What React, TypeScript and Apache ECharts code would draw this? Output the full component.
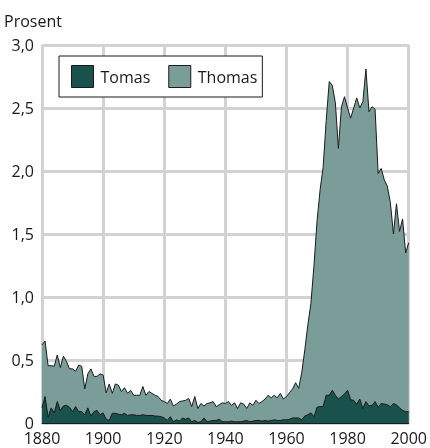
import React, { useEffect, useRef } from "react";
import * as echarts from "echarts";

const startYear = 1880;
const endYear = 2000;
const years: number[] = [];
for (let y = startYear; y <= endYear; y++) years.push(y);

const xTicks = [1880, 1900, 1920, 1940, 1960, 1980, 2000];
const yTicks = [0, 0.5, 1.0, 1.5, 2.0, 2.5, 3.0];

// Percentage of boys given the name Thomas, 1880–2000
const thomas: number[] = [
  0.62, 0.65, 0.455, 0.455, 0.45, 0.54, 0.44, 0.53, 0.49, 0.43,
  0.43, 0.41, 0.46, 0.45, 0.27, 0.39, 0.43, 0.37, 0.37, 0.39,
  0.38, 0.24, 0.31, 0.235, 0.31, 0.30, 0.25, 0.28, 0.235, 0.26,
  0.22, 0.22, 0.22, 0.29, 0.22, 0.25, 0.235, 0.22, 0.21, 0.18,
  0.17, 0.155, 0.19, 0.135, 0.15, 0.17, 0.175, 0.18, 0.195, 0.13,
  0.21, 0.115, 0.155, 0.135, 0.155, 0.16, 0.17, 0.13, 0.145, 0.16,
  0.155, 0.17, 0.14, 0.16, 0.115, 0.16, 0.15, 0.115, 0.16, 0.14,
  0.18, 0.155, 0.17, 0.19, 0.22, 0.20, 0.22, 0.20, 0.235, 0.19,
  0.21, 0.24, 0.27, 0.32, 0.275, 0.40, 0.58, 0.78, 0.95, 1.25,
  1.60, 1.85, 2.03, 2.40, 2.71, 2.68, 2.54, 2.18, 2.51, 2.59,
  2.50, 2.42, 2.50, 2.58, 2.50, 2.55, 2.81, 2.47, 2.51, 2.49,
  1.98, 2.02, 1.93, 1.88, 1.75, 1.50, 1.74, 1.52, 1.62, 1.35,
  1.43,
];

// Percentage of boys given the name Tomas, 1880–2000
const tomas: number[] = [
  0.12, 0.21, 0.045, 0.12, 0.08, 0.17, 0.10, 0.135, 0.14, 0.125,
  0.09, 0.13, 0.09, 0.09, 0.065, 0.12, 0.055, 0.09, 0.10, 0.065,
  0.08, 0.03, 0.02, 0.077, 0.077, 0.07, 0.065, 0.077, 0.06, 0.065,
  0.065, 0.06, 0.06, 0.065, 0.06, 0.06, 0.06, 0.055, 0.055, 0.05,
  0.04, 0.02, 0.05, 0.01, 0.025, 0.015, 0.04, 0.03, 0.04, 0.01,
  0.02, 0.005, 0.01, 0.04, 0.01, 0.015, 0.02, 0.02, 0.03, 0.01,
  0.01, 0.01, 0.015, 0.01, 0.01, 0.01, 0.015, 0.02, 0.01, 0.015,
  0.02, 0.02, 0.015, 0.02, 0.015, 0.02, 0.025, 0.02, 0.02, 0.025,
  0.025, 0.03, 0.04, 0.04, 0.04, 0.025, 0.055, 0.065, 0.08, 0.05,
  0.125, 0.13, 0.13, 0.22, 0.22, 0.26, 0.22, 0.19, 0.21, 0.23,
  0.26, 0.185, 0.18, 0.15, 0.19, 0.115, 0.17, 0.135, 0.14, 0.17,
  0.125, 0.155, 0.15, 0.145, 0.13, 0.155, 0.145, 0.12, 0.10, 0.09,
  0.09,
];

const seriesNames = ["Tomas", "Thomas"];
const colors = { Tomas: "#19524d", Thomas: "#7a9d99" };
const FONT = "Open Sans";
const TEXT = "#1a1a1a";

export default function App() {
  const ref = useRef<HTMLDivElement>(null);
  useEffect(() => {
    if (!ref.current) return;
    const chart = echarts.init(ref.current, null, { renderer: "svg" });
    const fmtY = (v: number) => (v === 0 ? "0" : v.toFixed(1).replace(".", ","));
    chart.setOption({
      animation: false,
      textStyle: { fontFamily: FONT, color: TEXT },
      graphic: [
        {
          type: "text",
          left: 4,
          top: 13,
          style: { text: "Prosent", font: `16px '${FONT}'`, fill: TEXT },
        },
      ],
      legend: {
        data: seriesNames.map((n) => ({
          name: n,
          icon: "rect",
          itemStyle: { color: (colors as any)[n], borderColor: "#1a1a1a", borderWidth: 1 },
        })),
        left: 59,
        top: 56,
        orient: "horizontal",
        itemWidth: 22,
        itemHeight: 22,
        itemGap: 18,
        padding: [9, 5, 9, 12],
        borderColor: "#1a1a1a",
        borderWidth: 1,
        backgroundColor: "#fff",
        selectedMode: false,
        textStyle: { fontFamily: FONT, fontSize: 16, color: TEXT, padding: [0, 0, 0, 2] },
      },
      grid: { left: 42, right: 14, top: 45, bottom: 25, containLabel: false },
      xAxis: {
        type: "value",
        min: xTicks[0],
        max: xTicks[xTicks.length - 1],
        interval: 20,
        axisLine: { show: true, lineStyle: { color: "#1a1a1a", width: 1 } },
        axisTick: { show: false },
        splitLine: { show: true, lineStyle: { color: "#d2d2d2", width: 3 } },
        axisLabel: {
          fontFamily: FONT,
          fontSize: 16,
          color: TEXT,
          margin: 7,
          formatter: (v: number) => String(v),
        },
      },
      yAxis: {
        type: "value",
        min: yTicks[0],
        max: yTicks[yTicks.length - 1],
        interval: 0.5,
        axisLine: { show: false },
        axisTick: { show: false },
        splitLine: { show: true, lineStyle: { color: "#d2d2d2", width: 3 } },
        axisLabel: {
          fontFamily: FONT,
          fontSize: 16,
          color: TEXT,
          margin: 8,
          formatter: fmtY,
        },
      },
      series: [
        {
          name: "Thomas",
          type: "line",
          data: years.map((y, i) => [y, thomas[i]]),
          showSymbol: false,
          symbol: "none",
          lineStyle: { color: "#1a1a1a", width: 1 },
          itemStyle: { color: colors.Thomas },
          areaStyle: { color: colors.Thomas, opacity: 1 },
          z: 2,
        },
        {
          name: "Tomas",
          type: "line",
          data: years.map((y, i) => [y, tomas[i]]),
          showSymbol: false,
          symbol: "none",
          lineStyle: { color: "#1a1a1a", width: 1 },
          itemStyle: { color: colors.Tomas },
          areaStyle: { color: colors.Tomas, opacity: 1 },
          z: 3,
        },
      ],
    });
    return () => chart.dispose();
  }, []);
  return (
    <div
      ref={ref}
      style={{ position: "fixed", left: 0, top: 0, width: 430, height: 448 }}
    />
  );
}
